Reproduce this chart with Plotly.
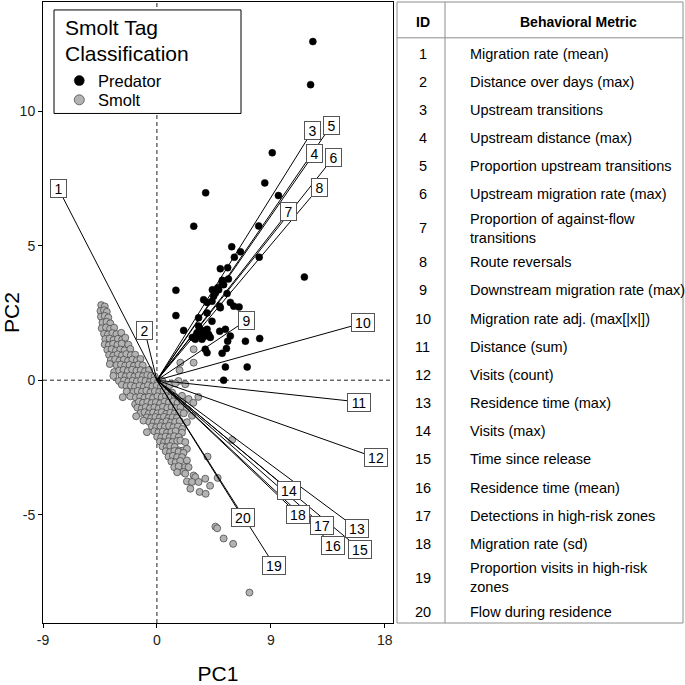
import plotly.graph_objects as go

# ---------------- data ----------------
x_tick_vals = [-9, 0, 9, 18]
y_tick_vals = [-5, 0, 5, 10]

predator_x = [12.32, 12.14, 9.11, 8.52, 3.85, 2.91, 9.60, 8.04, 5.91, 6.60, 6.12, 8.08, 11.65,
              5.01, 5.59, 5.17, 5.65, 1.50, 4.80, 5.27, 4.62, 4.48, 5.54, 3.96, 5.80, 6.07,
              6.49, 4.96, 5.15, 4.88, 4.35, 5.01, 1.50, 3.96, 4.35, 3.29, 2.11, 3.17, 3.43,
              3.69, 3.96, 3.82, 3.03, 3.56, 4.09, 3.29, 2.80, 4.22, 3.35, 4.96, 5.41, 5.80,
              5.59, 6.99, 8.12, 3.82, 3.96, 5.49, 5.15, 5.41, 7.13, 5.27, 3.69, 4.38]
predator_y = [12.58, 10.98, 8.45, 7.33, 6.96, 5.72, 6.86, 5.73, 4.96, 4.77, 4.57, 4.57, 3.83,
              4.14, 4.18, 3.71, 3.76, 3.34, 3.43, 3.55, 3.24, 3.12, 3.22, 2.89, 2.89, 2.75,
              2.72, 2.75, 3.61, 3.36, 2.93, 2.69, 2.40, 2.50, 2.19, 2.32, 1.85, 1.76, 1.89,
              1.82, 1.89, 1.64, 1.52, 1.52, 1.70, 2.01, 1.59, 1.59, 1.66, 1.82, 1.89, 1.64,
              1.45, 1.45, 1.55, 1.15, 1.02, 1.18, 1.00, 0.49, 0.49, 0.00, 2.99, 3.36]

smolt_x = [
    -4.40, -4.12,
    -4.46, -4.18, -3.96,
    -4.42, -4.12, -3.84,
    -4.30, -3.98, -3.68,
    -4.36, -4.02, -3.70, -3.38,
    -4.18, -3.86, -3.52, -3.20, -2.82,
    -4.08, -3.74, -3.42, -3.08, -2.74, -2.50,
    -4.12, -3.80, -3.46, -3.12, -2.78, -2.26,
    -3.92, -3.58, -3.24, -2.90, -2.56, -2.10,
    -3.78, -3.44, -3.10, -2.76, -2.42, -2.06, -1.72,
    -3.64, -3.30, -2.96, -2.62, -2.28, -1.94, -1.58, -1.30,
    -3.72, -3.18, -2.84, -2.50, -2.16, -1.82, -1.46, -1.12,
    -3.38, -2.98, -2.64, -2.30, -1.96, -1.62, -1.28, -0.94, -0.62,
    -3.44, -2.80, -2.46, -2.12, -1.78, -1.44, -1.10, -0.76, -0.46, -0.18,
    -3.00, -2.60, -2.26, -1.92, -1.58, -1.24, -0.90, -0.56, -0.24, 0.10, 0.42, 1.71,
    -2.77, -2.40, -2.06, -1.72, -1.38, -1.04, -0.70, -0.36, -0.02, 0.32, 0.66, 1.00, 1.45, 2.24,
    -2.38, -1.86, -1.52, -1.18, -0.84, -0.50, -0.16, 0.18, 0.52, 0.86, 1.20, 1.98,
    -2.70, -2.10, -1.66, -1.32, -0.98, -0.64, -0.30, 0.04, 0.38, 0.72, 1.06, 1.42, 2.50, 3.27,
    -1.72, -1.42, -1.10, -0.76, -0.42, -0.08, 0.26, 0.60, 0.94, 1.28, 1.64, 2.02, 2.88,
    -1.54, -1.20, -0.88, -0.54, -0.20, 0.14, 0.48, 0.82, 1.16, 1.50, 1.86, 2.37,
    -1.30, -0.98, -0.64, -0.30, 0.04, 0.38, 0.72, 1.06, 1.40, 1.76, 2.12,
    -1.64, -0.80, -0.46, -0.12, 0.22, 0.56, 0.90, 1.24, 1.58, 2.77,
    -1.06, -0.60, -0.26, 0.08, 0.42, 0.76, 1.10, 1.44, 1.80, 2.37,
    -0.40, -0.06, 0.28, 0.62, 0.96, 1.30, 1.66, 2.00,
    -0.79, -0.20, 0.12, 0.46, 0.80, 1.14, 1.48, 1.98,
    0.02, 0.34, 0.68, 1.02, 1.36, 1.72,
    0.24, 0.56, 0.90, 1.24, 1.60, 1.86, 2.24,
    0.44, 0.78, 1.05, 1.40, 1.74, 2.10, 2.37,
    0.70, 1.04, 1.38, 1.71, 2.10,
    0.92, 1.26, 1.60, 1.98, 4.00,
    1.14, 1.48, 1.84, 2.37,
    1.37, 1.72, 2.24, 2.50,
    1.60, 2.10, 2.90,
    2.24, 3.03, 3.82, 4.80,
    2.37, 2.77, 3.29,
    4.20,
    2.64, 3.37,
    3.85,
    5.94, 4.62, 4.76, 5.27, 6.02, 7.31, 2.90, 1.85, 2.90, 1.79,
]
smolt_y = [
    2.79, 2.74,
    2.57, 2.60, 2.54,
    2.36, 2.39, 2.33,
    2.14, 2.17, 2.11,
    1.93, 1.96, 1.91, 1.95,
    1.73, 1.70, 1.75, 1.71, 1.76,
    1.53, 1.55, 1.50, 1.54, 1.51, 1.58,
    1.33, 1.30, 1.35, 1.31, 1.36, 1.32,
    1.13, 1.15, 1.10, 1.14, 1.11, 1.16,
    0.94, 0.91, 0.96, 0.92, 0.97, 0.93, 0.95,
    0.75, 0.78, 0.73, 0.76, 0.72, 0.77, 0.74, 0.79,
    0.60, 0.56, 0.58, 0.54, 0.57, 0.53, 0.58, 0.55,
    0.30, 0.36, 0.38, 0.34, 0.39, 0.35, 0.37, 0.33, 0.38,
    0.16, 0.18, 0.14, 0.17, 0.13, 0.18, 0.15, 0.19, 0.16, 0.14,
    -0.03, -0.01, -0.05, -0.02, -0.04, 0.00, -0.03, -0.06, -0.01, -0.04, -0.02, -0.03,
    -0.17, -0.22, -0.20, -0.24, -0.21, -0.25, -0.19, -0.23, -0.20, -0.24, -0.21, -0.18, -0.12, -0.15,
    -0.42, -0.44, -0.40, -0.43, -0.39, -0.45, -0.41, -0.44, -0.40, -0.43, -0.46, -0.58,
    -0.63, -0.60, -0.64, -0.61, -0.65, -0.62, -0.66, -0.60, -0.63, -0.59, -0.64, -0.61, -0.70, -0.62,
    -0.89, -0.80, -0.84, -0.81, -0.85, -0.82, -0.86, -0.80, -0.83, -0.79, -0.84, -0.81, -0.84,
    -1.02, -1.05, -1.00, -1.04, -1.01, -1.05, -0.99, -1.03, -1.00, -1.04, -1.01, -1.07,
    -1.22, -1.19, -1.24, -1.20, -1.23, -1.19, -1.25, -1.21, -1.24, -1.20, -1.23,
    -1.34, -1.38, -1.41, -1.37, -1.40, -1.36, -1.41, -1.38, -1.40, -1.32,
    -1.50, -1.55, -1.57, -1.54, -1.58, -1.53, -1.57, -1.55, -1.52, -1.56,
    -1.72, -1.75, -1.71, -1.74, -1.70, -1.75, -1.72, -1.81,
    -1.93, -1.90, -1.94, -1.91, -1.95, -1.92, -1.89, -1.95,
    -2.10, -2.13, -2.09, -2.12, -2.08, -2.11,
    -2.28, -2.31, -2.27, -2.30, -2.26, -2.24, -2.30,
    -2.46, -2.49, -2.45, -2.48, -2.61, -2.61, -2.55,
    -2.64, -2.67, -2.63, -2.66, -2.70,
    -2.84, -2.81, -2.86, -2.86, -2.84,
    -3.02, -3.05, -3.00, -2.98,
    -3.23, -3.20, -3.23, -3.23,
    -3.42, -3.41, -3.54,
    -3.47, -3.60, -3.66, -3.63,
    -3.76, -3.78, -3.78,
    -3.92,
    -4.03, -4.15,
    -4.22,
    -2.22, -5.44, -5.50, -5.88, -6.08, -7.89, 1.15, 0.65, 0.65, 0.37,
]
assert len(smolt_x) == len(smolt_y)
assert len(predator_x) == len(predator_y)

legend_title_lines = ["Smolt Tag", "Classification"]
legend_labels = ["Predator", "Smolt"]

metric_ids = list(range(1, 21))
metric_names = [
    "Migration rate (mean)", "Distance over days (max)", "Upstream transitions",
    "Upstream distance (max)", "Proportion upstream transitions",
    "Upstream migration rate (max)", "Proportion of against-flow<br>transitions",
    "Route reversals", "Downstream migration rate (max)", "Migration rate adj. (max[|x|])",
    "Distance (sum)", "Visits (count)", "Residence time (max)", "Visits (max)",
    "Time since release", "Residence time (mean)", "Detections in high-risk zones",
    "Migration rate (sd)", "Proportion visits in high-risk<br>zones", "Flow during residence",
]
# loading vector ends (label positions) in PC space
vector_x = [-7.79, -0.98, 12.31, 12.42, 13.76, 13.94, 10.39, 12.81, 7.10, 16.31,
            15.99, 17.29, 15.79, 10.47, 16.05, 13.94, 13.07, 11.13, 9.26, 6.79]
vector_y = [7.12, 1.86, 9.28, 8.42, 9.46, 8.27, 6.26, 7.16, 2.23, 2.13,
            -0.81, -2.88, -5.51, -4.09, -6.28, -6.13, -5.39, -4.98, -6.87, -5.11]

# ---------------- layout constants (pixels) ----------------
FIG_W, FIG_H = 685, 685
ML, MR, MT, MB = 43, 2, 1, 60
PW = FIG_W - ML - MR
PH = FIG_H - MT - MB
PLOT_RIGHT = 393
X_RANGE = [-9, 18.65]
Y_RANGE = [-9.02, 14.05]
FONT = "Liberation Sans, Arial, Helvetica, sans-serif"
PRED_STYLE = dict(color="black", line=dict(color="black", width=0.5))
SMOLT_STYLE = dict(color="#b3b3b3", line=dict(color="#4d4d4d", width=0.8))


def px_x(p):
    return (p - ML) / PW


def px_y(p):
    return (FIG_H - MB - p) / PH


fig = go.Figure()

fig.add_trace(go.Scatter(x=predator_x, y=predator_y, mode="markers", name=legend_labels[0],
                         showlegend=False, marker=dict(size=7, **PRED_STYLE)))
fig.add_trace(go.Scatter(x=smolt_x, y=smolt_y, mode="markers", name=legend_labels[1],
                         showlegend=False, marker=dict(size=7, **SMOLT_STYLE)))

# loading vectors
lx, ly = [], []
for vx, vy in zip(vector_x, vector_y):
    lx += [0, vx, None]
    ly += [0, vy, None]
fig.add_trace(go.Scatter(x=lx, y=ly, mode="lines", showlegend=False, hoverinfo="skip",
                         line=dict(color="black", width=1)))

shapes = []
# dashed zero lines
shapes.append(dict(type="line", xref="x", yref="y", x0=0, x1=0, y0=Y_RANGE[0], y1=Y_RANGE[1],
                   line=dict(color="#222222", width=1, dash="4px,3px"), layer="below"))
shapes.append(dict(type="line", xref="x", yref="y", x0=X_RANGE[0], x1=X_RANGE[1], y0=0, y1=0,
                   line=dict(color="#222222", width=1, dash="4px,3px"), layer="below"))
# legend box + keys
shapes.append(dict(type="rect", xref="paper", yref="paper", x0=px_x(54), x1=px_x(241),
                   y0=px_y(113), y1=px_y(9), line=dict(color="black", width=1),
                   fillcolor="white", layer="above"))
for key_y, style in zip([80, 99.3], [PRED_STYLE, SMOLT_STYLE]):
    shapes.append(dict(type="circle", xref="paper", yref="paper", xsizemode="pixel",
                       ysizemode="pixel", xanchor=px_x(79.3), yanchor=px_y(key_y),
                       x0=-5, x1=5, y0=-5, y1=5, fillcolor=style["color"],
                       line=style["line"], layer="above"))
# table frame
TBL_L, TBL_R, TBL_T, TBL_B = 397, 683, 1, 625
COL_SEP = 445
HDR_B = 37
gray = "#8c8c8c"
shapes.append(dict(type="rect", xref="paper", yref="paper", x0=px_x(TBL_L), x1=px_x(TBL_R),
                   y0=px_y(TBL_B), y1=px_y(TBL_T), line=dict(color=gray, width=1)))
shapes.append(dict(type="line", xref="paper", yref="paper", x0=px_x(TBL_L), x1=px_x(TBL_R),
                   y0=px_y(HDR_B), y1=px_y(HDR_B), line=dict(color=gray, width=1)))
shapes.append(dict(type="line", xref="paper", yref="paper", x0=px_x(COL_SEP), x1=px_x(COL_SEP),
                   y0=px_y(TBL_B), y1=px_y(TBL_T), line=dict(color=gray, width=1)))

annotations = []
# vector labels
for vid, vx, vy in zip(metric_ids, vector_x, vector_y):
    annotations.append(dict(x=vx, y=vy, xref="x", yref="y", text=str(vid), showarrow=False,
                            xanchor="center", yanchor="middle",
                            font=dict(size=14, color="black", family=FONT),
                            bgcolor="white", bordercolor="#555555", borderwidth=1, borderpad=1,
                            width=13 if vid < 10 else 20, height=15))
# legend texts
for line, ty in zip(legend_title_lines, [27, 52.3]):
    annotations.append(dict(x=px_x(63), y=px_y(ty), xref="paper", yref="paper", text=line,
                            showarrow=False, xanchor="left", yanchor="middle",
                            font=dict(size=21, color="black", family=FONT)))
for lab, ty in zip(legend_labels, [80, 99.3]):
    annotations.append(dict(x=px_x(95.5), y=px_y(ty), xref="paper", yref="paper", text=lab,
                            showarrow=False, xanchor="left", yanchor="middle",
                            font=dict(size=16.5, color="black", family=FONT)))
# table header
ID_X = 422.7
NAME_X = 468
annotations.append(dict(x=px_x(ID_X), y=px_y(21.5), xref="paper", yref="paper", text="<b>ID</b>",
                        showarrow=False, xanchor="center", yanchor="middle",
                        font=dict(size=14, color="black", family=FONT)))
annotations.append(dict(x=px_x(578), y=px_y(21.5), xref="paper", yref="paper",
                        text="<b>Behavioral Metric</b>", showarrow=False,
                        xanchor="center", yanchor="middle",
                        font=dict(size=14, color="black", family=FONT)))
# table rows
ROW_H1, ROW_H2 = 28.3, 40.0
ytop = 38.6
for mid, name in zip(metric_ids, metric_names):
    h = ROW_H2 if "<br>" in name else ROW_H1
    yc = ytop + h / 2
    ytop += h
    annotations.append(dict(x=px_x(ID_X), y=px_y(yc), xref="paper", yref="paper", text=str(mid),
                            showarrow=False, xanchor="center", yanchor="middle",
                            font=dict(size=14.5, color="black", family=FONT)))
    annotations.append(dict(x=px_x(NAME_X), y=px_y(yc), xref="paper", yref="paper", text=name,
                            showarrow=False, xanchor="left", yanchor="middle", align="left",
                            font=dict(size=14.5, color="black", family=FONT)))

fig.update_layout(
    width=FIG_W, height=FIG_H,
    margin=dict(l=ML, r=MR, t=MT, b=MB),
    plot_bgcolor="white", paper_bgcolor="white",
    font=dict(family=FONT, color="black"),
    xaxis=dict(domain=[0, px_x(PLOT_RIGHT)], range=X_RANGE, tickmode="array",
               tickvals=x_tick_vals, ticktext=[str(v) for v in x_tick_vals],
               showgrid=False, zeroline=False, showline=True, linecolor="black", linewidth=1,
               mirror=True, ticks="outside", ticklen=4, tickcolor="black",
               tickfont=dict(size=14, color="#222222"),
               title=dict(text="PC1", font=dict(size=21, color="black"), standoff=22)),
    yaxis=dict(range=Y_RANGE, tickmode="array", tickvals=y_tick_vals,
               ticktext=[str(v) for v in y_tick_vals],
               showgrid=False, zeroline=False, showline=True, linecolor="black", linewidth=1,
               mirror=True, ticks="outside", ticklen=4, tickcolor="black",
               tickfont=dict(size=14, color="#222222"),
               title=dict(text="PC2", font=dict(size=21, color="black"), standoff=2)),
    shapes=shapes,
    annotations=annotations,
    showlegend=False,
)

fig.write_html("out.html", config={"displayModeBar": False},
               post_script="document.body.style.margin='0px';")
